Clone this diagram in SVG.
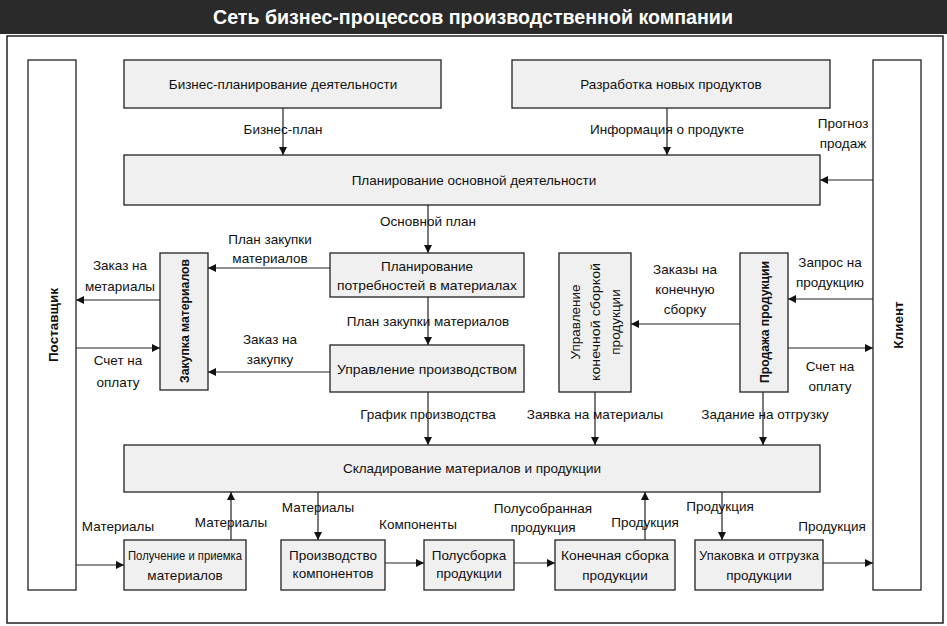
<svg xmlns="http://www.w3.org/2000/svg" width="947" height="626" viewBox="0 0 947 626">
<defs>
<marker id="a" viewBox="0 0 10 10" refX="10" refY="5" markerWidth="7" markerHeight="7" orient="auto"><path d="M0,0L10,5L0,10z" fill="#111"/></marker>
<style>
text{font-family:"Liberation Sans Narrow","Liberation Sans",Arial,sans-serif;font-size:13.5px;fill:#111;text-anchor:middle}
.b{fill:#f0f0f0;stroke:#222;stroke-width:1.3}
.s{fill:#fff;stroke:#222;stroke-width:1.3}
.c line{stroke:#222;stroke-width:1.2;marker-end:url(#a)}
.v{font-weight:bold}
</style>
</defs>
<rect width="947" height="626" fill="#fff"/>
<rect x="0" y="0" width="947" height="34" fill="#2a2a2a"/>
<text x="473" y="24" style="fill:#fff;font-size:21px;font-weight:bold" textLength="520" lengthAdjust="spacingAndGlyphs">Сеть бизнес-процессов производственной компании</text>
<rect x="7" y="36" width="936" height="587" fill="none" stroke="#222" stroke-width="1.5"/>

<g class="c">
<line x1="283" y1="108" x2="283" y2="155"/>
<line x1="667" y1="108" x2="667" y2="155"/>
<line x1="873" y1="180" x2="820" y2="180"/>
<line x1="428" y1="205" x2="428" y2="253"/>
<line x1="330" y1="268" x2="208" y2="268"/>
<line x1="160" y1="300" x2="76" y2="300"/>
<line x1="76" y1="348" x2="160" y2="348"/>
<line x1="428" y1="297" x2="428" y2="345"/>
<line x1="330" y1="372" x2="208" y2="372"/>
<line x1="740" y1="324" x2="631" y2="324"/>
<line x1="873" y1="299" x2="788" y2="299"/>
<line x1="788" y1="348" x2="873" y2="348"/>
<line x1="428" y1="392" x2="428" y2="445"/>
<line x1="595" y1="392" x2="595" y2="445"/>
<line x1="763" y1="392" x2="763" y2="445"/>
<line x1="76" y1="565" x2="124" y2="565"/>
<line x1="231" y1="540" x2="231" y2="492"/>
<line x1="318" y1="492" x2="318" y2="540"/>
<line x1="385" y1="563" x2="424" y2="563"/>
<line x1="514" y1="563" x2="555" y2="563"/>
<line x1="645" y1="540" x2="645" y2="492"/>
<line x1="722" y1="492" x2="722" y2="540"/>
<line x1="823" y1="563" x2="873" y2="563"/>
</g>

<g id="supplier"><rect class="s" x="28" y="60" width="48" height="530"/><text class="v" transform="translate(58,325) rotate(-90)">Поставщик</text></g>
<g id="client"><rect class="s" x="873" y="60" width="48" height="530"/><text class="v" transform="translate(903,325) rotate(-90)">Клиент</text></g>
<g id="bplan"><rect class="b" x="124" y="60" width="317" height="48"/><text x="283" y="89">Бизнес-планирование деятельности</text></g>
<g id="newprod"><rect class="b" x="512" y="60" width="318" height="48"/><text x="671" y="89">Разработка новых продуктов</text></g>
<g id="mainplan"><rect class="b" x="124" y="155" width="696" height="50"/><text x="474" y="185">Планирование основной деятельности</text></g>
<g id="mrp"><rect class="b" x="330" y="253" width="194" height="44"/><text x="427" y="271">Планирование</text><text x="427" y="290" textLength="180" lengthAdjust="spacingAndGlyphs">потребностей в материалах</text></g>
<g id="purchase"><rect class="b" x="160" y="253" width="48" height="137"/><text class="v" transform="translate(189,321) rotate(-90)" textLength="124" lengthAdjust="spacingAndGlyphs">Закупка материалов</text></g>
<g id="prodmgmt"><rect class="b" x="330" y="345" width="194" height="47"/><text x="427" y="374" textLength="180" lengthAdjust="spacingAndGlyphs">Управление производством</text></g>
<g id="assymgmt"><rect class="b" x="559" y="253" width="72" height="139"/><text transform="translate(580,322) rotate(-90)">Управление</text><text transform="translate(600,322) rotate(-90)" textLength="118" lengthAdjust="spacingAndGlyphs">конечной сборкой</text><text transform="translate(620,322) rotate(-90)">продукции</text></g>
<g id="sales"><rect class="b" x="740" y="253" width="48" height="139"/><text class="v" transform="translate(769,322) rotate(-90)" textLength="122" lengthAdjust="spacingAndGlyphs">Продажа продукции</text></g>
<g id="warehouse"><rect class="b" x="124" y="445" width="696" height="47"/><text x="472" y="473">Складирование материалов и продукции</text></g>
<g id="receive"><rect class="b" x="124" y="540" width="122" height="50"/><text x="185" y="560" textLength="114" lengthAdjust="spacingAndGlyphs">Получение и приемка</text><text x="185" y="580">материалов</text></g>
<g id="comp"><rect class="b" x="281" y="540" width="104" height="50"/><text x="333" y="560">Производство</text><text x="333" y="578">компонентов</text></g>
<g id="subasm"><rect class="b" x="424" y="540" width="90" height="50"/><text x="469" y="560">Полусборка</text><text x="469" y="578">продукции</text></g>
<g id="final"><rect class="b" x="555" y="540" width="120" height="50"/><text x="615" y="560" textLength="108" lengthAdjust="spacingAndGlyphs">Конечная сборка</text><text x="615" y="580">продукции</text></g>
<g id="pack"><rect class="b" x="695" y="540" width="128" height="50"/><text x="759" y="560" textLength="120" lengthAdjust="spacingAndGlyphs">Упаковка и отгрузка</text><text x="759" y="580">продукции</text></g>

<g id="labels">
<text x="283" y="134">Бизнес-план</text>
<text x="667" y="134">Информация о продукте</text>
<text x="843" y="128">Прогноз</text><text x="843" y="148">продаж</text>
<text x="428" y="226">Основной план</text>
<text x="270" y="244">План закупки</text><text x="270" y="263">материалов</text>
<text x="120" y="270">Заказ на</text><text x="120" y="291">метариалы</text>
<text x="118" y="365">Счет на</text><text x="118" y="387">оплату</text>
<text x="428" y="326">План закупки материалов</text>
<text x="270" y="344">Заказ на</text><text x="270" y="364">закупку</text>
<text x="685" y="274">Заказы на</text><text x="685" y="294">конечную</text><text x="685" y="314">сборку</text>
<text x="830" y="267">Запрос на</text><text x="830" y="287">продукцию</text>
<text x="830" y="371">Счет на</text><text x="830" y="391">оплату</text>
<text x="428" y="419">График производства</text>
<text x="595" y="419">Заявка на материалы</text>
<text x="765" y="419">Задание на отгрузку</text>
<text x="118" y="531">Материалы</text>
<text x="231" y="527">Материалы</text>
<text x="318" y="512">Материалы</text>
<text x="418" y="529">Компоненты</text>
<text x="543" y="513">Полусобранная</text><text x="543" y="532">продукция</text>
<text x="645" y="527">Продукция</text>
<text x="720" y="511">Продукция</text>
<text x="832" y="531">Продукция</text>
</g>
</svg>
